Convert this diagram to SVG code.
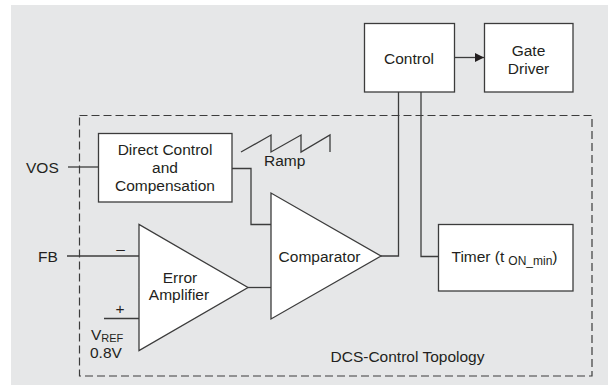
<svg xmlns="http://www.w3.org/2000/svg" width="611" height="387" viewBox="0 0 611 387">
  <style>
    .box { fill: #ffffff; stroke: #3c3c3c; stroke-width: 1.3; }
    .wire { fill: none; stroke: #3c3c3c; stroke-width: 1.3; }
    .frame { fill: none; stroke: #3c3c3c; stroke-width: 1.2; stroke-dasharray: 8 4; }
    text { font-family: "Liberation Sans", Arial, sans-serif; font-size: 15.5px; fill: #231f20; }
    .c { text-anchor: middle; }
    .sub { font-size: 12px; }
    .ref { font-size: 11px; }
  </style>
  <defs>
    <marker id="arrow" markerWidth="10" markerHeight="10" refX="9" refY="5" orient="auto" markerUnits="userSpaceOnUse">
      <path d="M0,0.5 L9,5 L0,9.5 Z" fill="#231f20"/>
    </marker>
  </defs>

  <!-- panel background -->
  <rect x="11" y="5" width="597" height="380" fill="#e6e7e8"/>

  <!-- DCS-Control topology frame -->
  <rect class="frame" x="79.5" y="115.5" width="512.5" height="260.5"/>
  <text class="c" x="407.5" y="361.5">DCS-Control Topology</text>

  <!-- connectors -->
  <g id="connectors">
    <line class="wire" x1="454" y1="57.5" x2="484" y2="57.5" marker-end="url(#arrow)"/>
    <line class="wire" x1="68" y1="167" x2="98" y2="167"/>
    <polyline class="wire" points="232,168.5 251,168.5 251,224.5 271,224.5"/>
    <line class="wire" x1="67" y1="256" x2="139" y2="256"/>
    <line class="wire" x1="104" y1="318.5" x2="139" y2="318.5"/>
    <line class="wire" x1="248" y1="287.5" x2="271" y2="287.5"/>
    <polyline class="wire" points="381,256 398.5,256 398.5,92"/>
    <polyline class="wire" points="421,92 421,256.5 438,256.5"/>
    <!-- ramp waveform -->
    <polyline class="wire" points="241,152 271,135 271,152 301,135 301,152 330,135 330,152"/>
  </g>

  <!-- input labels -->
  <text x="26" y="172.5">VOS</text>
  <text x="38" y="261.5">FB</text>
  <text x="264" y="165.5">Ramp</text>
  <text class="c" x="120.5" y="254">–</text>
  <text class="c" x="120" y="314">+</text>
  <text x="91" y="339.5">V<tspan class="ref" dy="2">REF</tspan></text>
  <text x="90" y="358">0.8V</text>

  <g id="control">
    <rect class="box" x="364.5" y="23.5" width="90" height="68.5"/>
    <text class="c" x="409" y="63.5">Control</text>
  </g>

  <g id="gate-driver">
    <rect class="box" x="484.5" y="23.5" width="88.5" height="68.5"/>
    <text class="c" x="528.5" y="56">Gate</text>
    <text class="c" x="528.5" y="73.5">Driver</text>
  </g>

  <g id="direct-control">
    <rect class="box" x="98.5" y="133.5" width="133.5" height="68.5"/>
    <text class="c" x="165" y="155">Direct Control</text>
    <text class="c" x="165" y="173">and</text>
    <text class="c" x="165" y="191">Compensation</text>
  </g>

  <g id="error-amplifier">
    <polygon class="box" points="139,224.5 139,350.5 248,287.5"/>
    <text class="c" x="180" y="282.5">Error</text>
    <text class="c" x="179" y="300">Amplifier</text>
  </g>

  <g id="comparator">
    <polygon class="box" points="271,193 271,319 381,256"/>
    <text class="c" x="319.5" y="261.5">Comparator</text>
  </g>

  <g id="timer">
    <rect class="box" x="438.5" y="224.5" width="134.5" height="66.5"/>
    <text x="451.5" y="261.5">Timer (t<tspan class="sub" dx="4" dy="3.5">ON_min</tspan><tspan dy="-3.5">)</tspan></text>
  </g>
</svg>
